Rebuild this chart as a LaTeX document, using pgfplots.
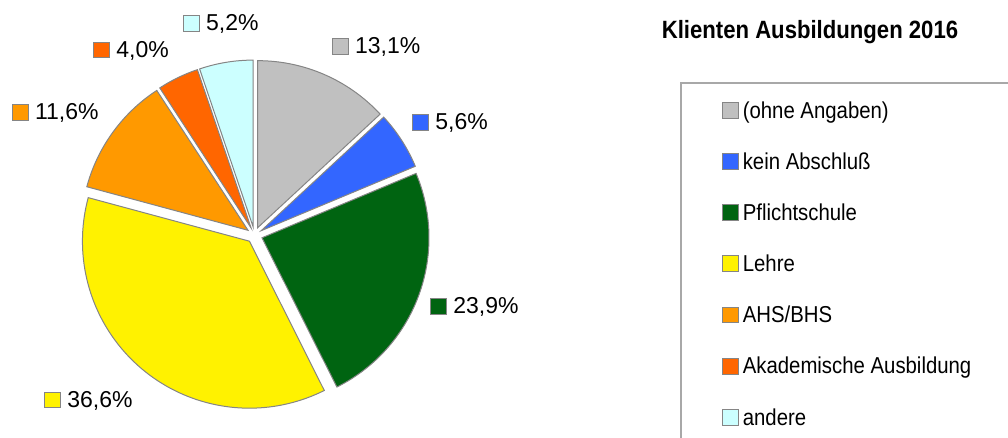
\documentclass[border=0pt]{standalone}
\usepackage{pgfplots}
\pgfplotsset{compat=1.18}
\usepackage{fontspec}
\setmainfont{Liberation Sans}
\newfontfamily\condfont{Liberation Sans}[FakeStretch=0.885]
\definecolor{cGray}{HTML}{C0C0C0}
\definecolor{cBlue}{HTML}{3366FF}
\definecolor{cGreen}{HTML}{006411}
\definecolor{cYellow}{HTML}{FFF200}
\definecolor{cOrange}{HTML}{FF9900}
\definecolor{cDOrange}{HTML}{FF6600}
\definecolor{cCyan}{HTML}{CCFFFF}
\definecolor{edgegray}{HTML}{858585}
\definecolor{framegray}{HTML}{A8A8A8}
% pie geometry in pixel units
\def\cx{254.5}
\def\cy{235}
\def\R{167}
\def\off{8}
\newcommand{\pieslice}[4]{%
  \pgfmathsetmacro\aS{90-3.6*(#1)}%
  \pgfmathsetmacro\aE{90-3.6*(#1+#2)}%
  \pgfmathsetmacro\aM{(\aS+\aE)/2}%
  \pgfmathsetmacro\ax{\cx+\off*cos(\aM)}%
  \pgfmathsetmacro\ay{\cy-\off*sin(\aM)}%
  \edef\doslice{\noexpand\addplot[fill=#3, draw=edgegray, line width=0.5pt, domain=\aE:\aS, samples=80]
    ({\ax+\R*cos(x)},{\ay-\R*sin(x)}) -- (axis cs:\ax,\ay) -- cycle;}%
  \doslice
  \addlegendentry{#4}%
}
\newcommand{\keybox}[1]{{\fboxsep=0pt\fboxrule=0.5pt\fcolorbox{edgegray}{#1}{\rule{7.3pt}{0pt}\rule{0pt}{7.3pt}}}}
\newcommand{\dlabel}[4]{% x, baseline y, color, text
  \node[anchor=base west, inner sep=0pt, font=\fontsize{11.5}{13}\selectfont] at (axis cs:#1,#2) {\keybox{#3}\hspace{3.2pt}#4};}
\begin{document}
\begin{tikzpicture}
\begin{axis}[
  scale only axis, width=504pt, height=219pt,
  xmin=0, xmax=1008, ymin=0, ymax=438, y dir=reverse,
  hide axis, clip=false,
  legend style={at={(axis cs:722,101.5)}, anchor=north west, draw=none, fill=none,
    inner sep=0pt, row sep=17.3pt, column sep=1.9pt,
    font=\condfont\fontsize{11.5}{13}\selectfont,
    nodes={inner sep=0pt, text height=7.8pt, text depth=0pt}},
  legend cell align=left,
  legend image code/.code={\draw[#1] (0pt,-3.9pt) rectangle (7.8pt,3.9pt);},
]
\pieslice{0}{13.1}{cGray}{(ohne Angaben)}
\pieslice{13.1}{5.6}{cBlue}{kein Abschluß}
\pieslice{18.7}{23.9}{cGreen}{Pflichtschule}
\pieslice{42.6}{36.6}{cYellow}{Lehre}
\pieslice{79.2}{11.6}{cOrange}{AHS/BHS}
\pieslice{90.8}{4.0}{cDOrange}{Akademische Ausbildung}
\pieslice{94.8}{5.2}{cCyan}{andere}
\dlabel{331.7}{54}{cGray}{13,1\%}
\dlabel{412}{130}{cBlue}{5,6\%}
\dlabel{430}{314}{cGreen}{23,9\%}
\dlabel{44}{407.3}{cYellow}{36,6\%}
\dlabel{11.7}{120}{cOrange}{11,6\%}
\dlabel{93}{57.3}{cDOrange}{4,0\%}
\dlabel{182.7}{31}{cCyan}{5,2\%}
\draw[framegray, line width=0.6pt] (axis cs:681,445) -- (axis cs:681,83) -- (axis cs:1015,83);
\node[anchor=base, inner sep=0pt, font=\condfont\bfseries\fontsize{12.5}{14}\selectfont] at (axis cs:810,38.3) {Klienten Ausbildungen 2016};
\end{axis}
\pgfresetboundingbox
\useasboundingbox (0,0) rectangle (504pt,219pt);
\end{tikzpicture}
\end{document}
